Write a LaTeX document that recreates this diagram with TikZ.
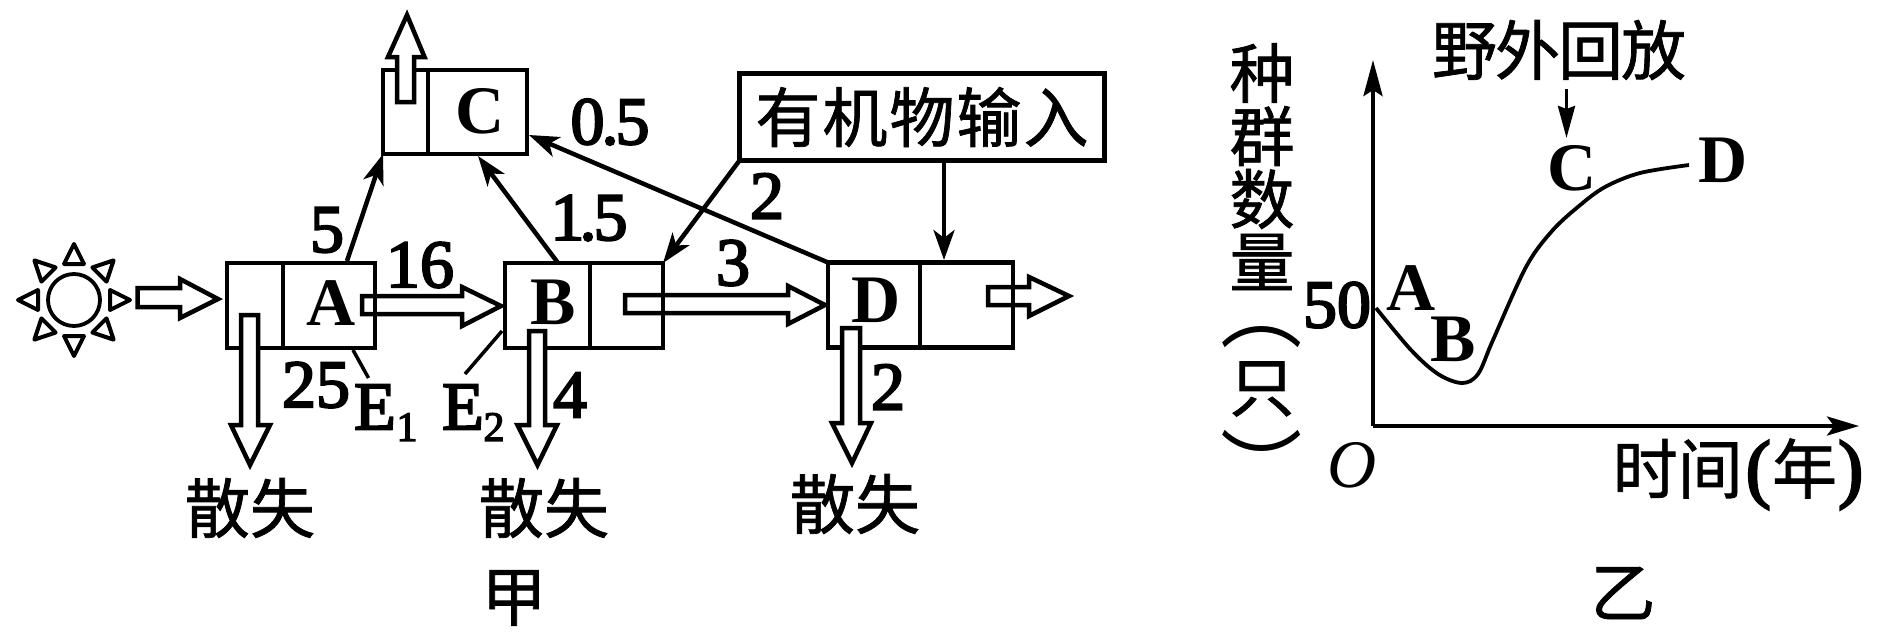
\documentclass[tikz,border=0pt]{standalone}
\usepackage{fontspec}
\usetikzlibrary{arrows.meta}
\setmainfont{Liberation Serif}
\newfontfamily\cjk[FakeBold=1.1]{Noto Sans CJK SC}
\newfontfamily\cjkplain{Noto Sans CJK SC}
\newfontfamily\medserif[FakeBold=3]{Liberation Serif}
\tikzset{
  every picture/.style={x=1pt,y=-1pt},
  boxn/.style={draw,line width=4.5pt,inner sep=0pt,outer sep=0pt,line join=miter},
  divider/.style={line width=4.5pt},
  hollow/.style={draw,line width=4.5pt,line join=miter},
  hollowfill/.style={hollow,fill=white},
  thinarrow/.style={line width=4.5pt,-{Stealth[length=30pt,width=21pt,inset=8pt]}},
  thinline/.style={line width=3.5pt},
  lat/.style={font=\fontsize{68}{68}\selectfont\bfseries,inner sep=0pt},
  dig/.style={font=\fontsize{68}{68}\selectfont\medserif,inner sep=0pt},
  sub/.style={font=\fontsize{42}{42}\selectfont\medserif,inner sep=0pt},
  zh/.style={font=\fontsize{65}{65}\selectfont\cjk,inner sep=0pt},
  vparen/.style={font=\fontsize{82}{82}\selectfont\cjkplain,inner sep=0pt,rotate=-90},
  ray/.style={draw,line width=4pt,line join=round},
}
\begin{document}
\begin{tikzpicture}
\useasboundingbox (0,0) rectangle (1890,632);

% boxes
\node[boxn,minimum width=148pt,minimum height=85pt] (boxA) at (301,305.5) {};
\node[boxn,minimum width=158pt,minimum height=85pt] (boxB) at (584,305.5) {};
\node[boxn,minimum width=144pt,minimum height=84pt] (boxC) at (455,112) {};
\node[boxn,minimum width=185pt,minimum height=85pt] (boxD) at (920.5,305) {};
\draw[divider] (283,263) -- (283,348);
\draw[divider] (590,263) -- (590,348);
\draw[divider] (428,70) -- (428,154);
\draw[divider] (920,262) -- (920,347);

% hollow arrows
\path[hollow] (137.5,288) -- (180,288) -- (180,279) -- (218,299) -- (180,318) -- (180,307) -- (137.5,307) -- cycle;
\path[hollow] (362,296) -- (462,296) -- (462,287) -- (501,306) -- (462,326) -- (462,314) -- (362,314) -- cycle;
\path[hollow] (625,295) -- (788,295) -- (788,286) -- (825,305) -- (788,324) -- (788,313) -- (625,313) -- cycle;
\path[hollow] (988,287) -- (1029,287) -- (1029,277) -- (1069,296) -- (1029,316) -- (1029,305) -- (988,305) -- cycle;
\path[hollowfill] (241,315) -- (258,315) -- (258,425) -- (270,425) -- (250,465) -- (231,425) -- (241,425) -- cycle;
\path[hollowfill] (529,331) -- (545,331) -- (545,425) -- (557,425) -- (537.5,465) -- (517.5,425) -- (529,425) -- cycle;
\path[hollowfill] (842,328) -- (860,328) -- (860,423) -- (871,423) -- (852,463) -- (832,423) -- (842,423) -- cycle;
\path[hollowfill] (397,102) -- (414,102) -- (414,57) -- (424.5,57) -- (407,15) -- (388,57) -- (397,57) -- cycle;

% sun
\node[draw,circle,line width=3.8pt,minimum size=52pt,inner sep=0pt] (sun) at (74,300) {};
\foreach \a in {0,45,...,315}{
  \path[ray,shift={(74,300)},rotate=\a] (36,-10) -- (56,0) -- (36,10) -- cycle;
}

% input box
\node[boxn,zh,draw,line width=4.5pt,minimum width=365pt,minimum height=87pt] (input) at (922,117) {有\kern2pt 机\kern2pt 物\kern2pt 输\kern2pt 入};

% free ends
\coordinate (aOut) at (347,261);
\coordinate (bOut) at (558,263);
\coordinate (cIn) at (478,156);
\coordinate (cInR) at (529,135);
\coordinate (inD) at (944,161);
\coordinate (dIn) at (944,260);
\coordinate (e1a) at (353,350);
\coordinate (e1b) at (368.5,378);
\coordinate (e2a) at (502,331);
\coordinate (e2b) at (465,374);

% thin connectors
\draw[thinarrow] (aOut) -- (boxC.south west);
\draw[thinarrow] (bOut) -- (cIn);
\draw[thinarrow] (boxD.north west) -- (cInR);
\draw[thinarrow] (input.south west) -- (boxB.north east);
\draw[thinarrow] (inD) -- (dIn);
\draw[thinline] (e1a) -- (e1b);
\draw[thinline] (e2a) -- (e2b);

% left labels
\node[lat] (tA) at (331,303) {A};
\node[lat] (tB) at (553,302) {B};
\node[lat] (tC) at (480,111) {C};
\node[lat] (tD) at (876,300) {D};
\node[dig] (n5) at (327,230) {5};
\node[dig] (n16) at (420,265) {16};
\node[dig] (n05) at (610,122) {0\kern-3pt.\kern-3pt 5};
\node[dig] (n15) at (589,218) {1\kern-5pt.\kern-3pt 5};
\node[dig] (n2a) at (767,196) {2};
\node[dig] (n3) at (733,263) {3};
\node[dig] (n2b) at (888,387) {2};
\node[dig] (n25) at (316,385) {25};
\node[dig] (n4) at (570,395) {4};
\node[dig] (e1) at (375,407) {E};
\node[sub] (e1s) at (407,427) {1};
\node[dig] (e2) at (463,407) {E};
\node[sub] (e2s) at (494,427) {2};
\node[zh] (l1) at (250,508) {散失};
\node[zh] (l2) at (544,508) {散失};
\node[zh] (l3) at (855,504) {散失};
\node[zh] (jia) at (514,598) {甲};

% chart
\coordinate (orig) at (1373,426);
\coordinate (yEnd) at (1373,60);
\coordinate (xEnd) at (1859,426);
\coordinate (relA) at (1566.5,89);
\coordinate (relB) at (1566.5,138);
\draw[line width=4.2pt,-{Stealth[length=36pt,width=19pt,inset=6pt]}] (orig) -- (yEnd);
\draw[line width=4.2pt,-{Stealth[length=32pt,width=19pt,inset=7pt]}] (orig) -- (xEnd);
\draw[line width=3.6pt,-{Stealth[length=32pt,width=17pt,inset=3pt]}] (relA) -- (relB);
\draw[line width=3.8pt] plot[smooth,tension=0.55] coordinates {(1376,308) (1411,350) (1438,374) (1462,383) (1478,374) (1493,340) (1526,267) (1552,231) (1579,206) (1605,187) (1640,173) (1689,165)};

\node[zh] (release) at (1559,50) {野\kern-2pt 外\kern-2pt 回\kern-2pt 放};
\node[zh] (y1) at (1262,73) {种};
\node[zh] (y2) at (1262,136) {群};
\node[zh] (y3) at (1262,199) {数};
\node[zh] (y4) at (1262,262) {量};
\node[vparen] (y5) at (1262,310) {（};
\node[zh] (y6) at (1262,389) {只};
\node[vparen] (y7) at (1262,467) {）};
\node[dig] (c50) at (1337,305) {50};
\node[lat] (cA) at (1411,288) {A};
\node[lat] (cB) at (1453,339) {B};
\node[lat] (cC) at (1572,168) {C};
\node[lat] (cD) at (1723,160) {D};
\node[font=\fontsize{68}{68}\selectfont\itshape,inner sep=0pt] (cO) at (1352,465) {O};
\node[zh] (xl) at (1738,474) {时间\kern3pt{\fontsize{76}{76}\selectfont\medserif(}\kern1pt 年\kern1pt{\fontsize{76}{76}\selectfont\medserif)}};
\node[zh] (yi) at (1623,593) {乙};
\end{tikzpicture}
\end{document}
